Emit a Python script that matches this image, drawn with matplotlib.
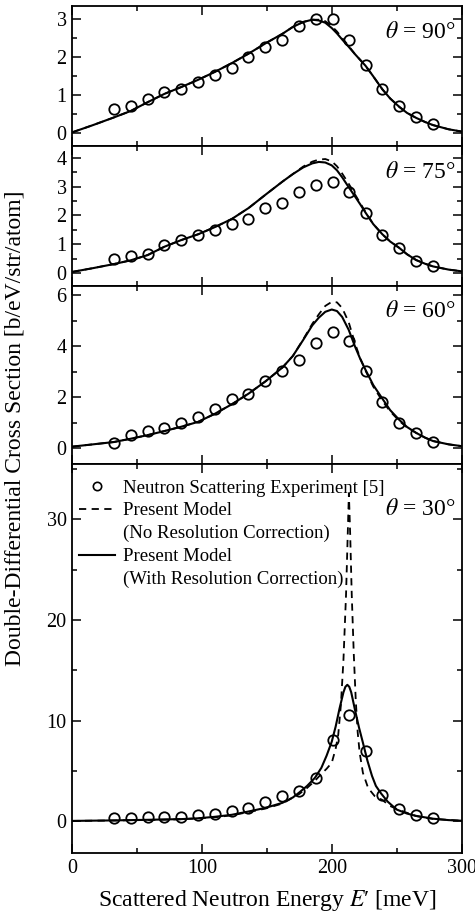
import matplotlib
matplotlib.use("Agg")
import matplotlib.pyplot as plt
import matplotlib.transforms as mtransforms
from matplotlib.lines import Line2D
from matplotlib.ticker import MultipleLocator

plt.rcParams['font.family'] = 'serif'
plt.rcParams['font.serif'] = ['Liberation Serif', 'DejaVu Serif']
plt.rcParams['mathtext.fontset'] = 'stix'

# experiment: scattered neutron energy [meV] and cross sections [b/eV/str/atom]
e_exp = [32.4, 45.3, 58.2, 71.0, 84.1, 97.0, 109.9, 123.0, 135.8, 148.9,
         161.6, 174.7, 187.5, 200.7, 213.5, 226.4, 239.0, 252.1, 264.9, 278.0]
exp_90 = [0.63, 0.71, 0.90, 1.08, 1.16, 1.35, 1.53, 1.72, 2.00, 2.26,
          2.46, 2.82, 3.01, 3.01, 2.45, 1.81, 1.16, 0.71, 0.43, 0.25]
exp_75 = [0.51, 0.61, 0.68, 0.97, 1.16, 1.34, 1.51, 1.69, 1.88, 2.25,
          2.43, 2.80, 3.06, 3.17, 2.80, 2.08, 1.34, 0.89, 0.43, 0.25]
exp_60 = [0.23, 0.52, 0.69, 0.81, 0.98, 1.25, 1.54, 1.92, 2.15, 2.65,
          3.03, 3.46, 4.11, 4.56, 4.21, 3.03, 1.81, 0.98, 0.61, 0.26]
exp_30 = [0.26, 0.33, 0.43, 0.43, 0.43, 0.60, 0.70, 0.96, 1.32, 1.85,
          2.48, 2.98, 4.30, 8.05, 10.5, 6.95, 2.55, 1.16, 0.56, 0.26]

# model curves for 90, 75, 60 deg
e_mod = [0, 16, 32, 45, 58, 71, 84, 97, 110, 123, 136, 149, 162, 170, 178, 185,
         190, 195, 200, 204, 208, 213, 218, 222, 226, 232, 239, 245, 252, 258,
         265, 272, 278, 290, 300]
sol_90 = [0.03, 0.22, 0.42, 0.59, 0.82, 1.04, 1.22, 1.41, 1.62, 1.85, 2.10, 2.37,
          2.62, 2.80, 2.93, 2.99, 2.97, 2.91, 2.77, 2.63, 2.47, 2.28, 2.08, 1.93,
          1.78, 1.50, 1.16, 0.92, 0.70, 0.54, 0.41, 0.30, 0.22, 0.11, 0.05]
dash_90 = [0.03, 0.22, 0.42, 0.59, 0.82, 1.04, 1.22, 1.41, 1.62, 1.85, 2.10, 2.37,
           2.62, 2.80, 2.93, 2.99, 2.99, 2.95, 2.82, 2.68, 2.51, 2.30, 2.08, 1.93,
           1.78, 1.50, 1.16, 0.92, 0.70, 0.54, 0.41, 0.30, 0.22, 0.11, 0.05]
sol_75 = [0.05, 0.18, 0.32, 0.45, 0.63, 0.92, 1.15, 1.35, 1.60, 1.88, 2.26, 2.72,
          3.17, 3.43, 3.66, 3.80, 3.85, 3.83, 3.73, 3.56, 3.32, 2.98, 2.65, 2.38,
          2.10, 1.70, 1.35, 1.10, 0.88, 0.66, 0.46, 0.33, 0.24, 0.13, 0.07]
dash_75 = [0.05, 0.18, 0.32, 0.45, 0.63, 0.92, 1.15, 1.35, 1.60, 1.88, 2.26, 2.72,
           3.17, 3.43, 3.69, 3.86, 3.93, 3.95, 3.87, 3.70, 3.45, 3.10, 2.72, 2.42,
           2.12, 1.70, 1.35, 1.10, 0.88, 0.66, 0.46, 0.33, 0.24, 0.13, 0.07]
sol_60 = [0.07, 0.16, 0.25, 0.38, 0.52, 0.68, 0.85, 1.04, 1.36, 1.73, 2.15, 2.63,
          3.17, 3.62, 4.25, 4.82, 5.12, 5.35, 5.44, 5.38, 5.15, 4.65, 3.98, 3.50,
          3.08, 2.48, 1.95, 1.50, 1.12, 0.84, 0.61, 0.42, 0.29, 0.16, 0.09]
dash_60 = [0.07, 0.16, 0.25, 0.38, 0.52, 0.68, 0.85, 1.04, 1.36, 1.73, 2.15, 2.63,
           3.17, 3.62, 4.27, 4.88, 5.25, 5.58, 5.74, 5.72, 5.50, 4.95, 4.10, 3.52,
           3.05, 2.42, 1.86, 1.45, 1.08, 0.82, 0.61, 0.42, 0.29, 0.16, 0.09]

# 30 deg has its own sampling because of the sharp peak
e_sol_30 = [0, 32, 58, 84, 97, 110, 123, 136, 149, 162, 170, 175, 181, 187, 192,
            196, 200, 203, 206, 209, 210.5, 212, 213.5, 215, 218, 221, 224, 227.5,
            231, 234, 238, 243, 250, 258, 265, 278, 290, 300]
sol_30 = [0.02, 0.07, 0.13, 0.20, 0.28, 0.43, 0.63, 0.96, 1.32, 1.82, 2.35, 2.85,
          3.5, 4.3, 5.3, 6.5, 7.9, 9.4, 11.2, 12.8, 13.35, 13.55, 13.35, 12.8, 11.0,
          9.3, 7.8, 6.0, 4.5, 3.5, 2.75, 1.95, 1.15, 0.75, 0.52, 0.24, 0.10, 0.04]
e_dash_30 = [0, 32, 58, 84, 110, 123, 136, 149, 162, 175, 181, 187, 192, 196, 200,
             203, 205, 207, 209, 211, 212.3, 213.2, 214.2, 215.4, 217, 218.5, 220,
             221.5, 224, 228, 233, 239, 245, 252, 265, 278, 300]
dash_30 = [0.02, 0.06, 0.11, 0.18, 0.38, 0.58, 0.9, 1.25, 1.75, 2.7, 3.3, 4.0, 4.7,
           5.2, 5.8, 7.2, 8.6, 11.5, 16.0, 22.5, 28.5, 32.6, 28.5, 22.5, 16.5, 12.0,
           8.8, 6.8, 4.8, 3.3, 2.5, 2.1, 1.5, 1.1, 0.5, 0.22, 0.03]

angles = ['90', '75', '60', '30']
exps = [exp_90, exp_75, exp_60, exp_30]
sols = [(e_mod, sol_90), (e_mod, sol_75), (e_mod, sol_60), (e_sol_30, sol_30)]
dashes = [(e_mod, dash_90), (e_mod, dash_75), (e_mod, dash_60), (e_dash_30, dash_30)]
ylims = [(-0.33, 3.35), (-0.42, 4.40), (-0.61, 6.38), (-3.2, 35.5)]
ymajor = [1, 1, 2, 10]
yminor = [0.5, 0.5, 1, 5]

# panel rectangles in figure fractions (bottom, top)
left, right = 72.3 / 475, 461.5 / 475
edges = [6, 146, 285.5, 464, 853.3]
H = 914

fig = plt.figure(figsize=(4.75, 9.14), dpi=100)
axes = []
for i in range(4):
    b = (H - edges[i + 1]) / H
    t = (H - edges[i]) / H
    ax = fig.add_axes([left, b, right - left, t - b])
    axes.append(ax)

    ax.plot(dashes[i][0], dashes[i][1], color='k', lw=1.3, ls='--', dashes=(4, 3), zorder=2)
    ax.plot(sols[i][0], sols[i][1], color='k', lw=1.5, zorder=3)
    ax.plot(e_exp, exps[i], ls='none', marker='o', ms=7.5, mfc='none', mec='k',
            mew=1.3, zorder=4)

    ax.set_xlim(0, 300)
    ax.set_ylim(*ylims[i])
    ax.xaxis.set_major_locator(MultipleLocator(100))
    ax.xaxis.set_minor_locator(MultipleLocator(50))
    ax.yaxis.set_major_locator(MultipleLocator(ymajor[i]))
    ax.yaxis.set_minor_locator(MultipleLocator(yminor[i]))
    ax.tick_params(which='both', direction='in', top=True, right=True, width=1.1,
                   labelsize=14.5, pad=4)
    ax.tick_params(which='major', length=6.5)
    ax.tick_params(which='minor', length=3.5)
    for s in ax.spines.values():
        s.set_linewidth(1.3)
    if i < 3:
        ax.tick_params(labelbottom=False)

    off = -19 if i < 3 else -33
    ax.annotate(r'$\theta$ = %s°' % angles[i], xy=(1, 1), xycoords='axes fraction',
                xytext=(-4.5, off), textcoords='offset points', ha='right', va='center',
                fontsize=17)

ax4 = axes[3]
ax4.set_xlabel("Scattered Neutron Energy $E$\u2032 [meV]", fontsize=17, labelpad=7)
fig.text(15 / 475, (H - 428) / H, 'Double-Differential Cross Section [b/eV/str/atom]',
         rotation=90, ha='center', va='center', fontsize=17)

# keep the last x tick label inside the canvas
fig.canvas.draw()
lab = ax4.get_xticklabels()[-1]
lab.set_transform(lab.get_transform() + mtransforms.Affine2D().translate(-4, 0))

h_exp = Line2D([], [], ls='none', marker='o', ms=6, mfc='none', mec='k', mew=1.2)
h_dash = Line2D([], [], ls='--', color='k', lw=1.3, dashes=(4, 3))
h_blank = Line2D([], [], ls='none')
h_sol = Line2D([], [], ls='-', color='k', lw=1.5)
ax4.legend([h_exp, h_dash, h_blank, h_sol, h_blank],
           ['Neutron Scattering Experiment [5]', 'Present Model',
            '(No Resolution Correction)', 'Present Model',
            '(With Resolution Correction)'],
           loc='upper left', bbox_to_anchor=(0.017, 0.96), frameon=False,
           fontsize=13.5, handlelength=1.9, handletextpad=0.45, labelspacing=0.3,
           borderpad=0, borderaxespad=0)

fig.savefig('out.png', dpi=100)
